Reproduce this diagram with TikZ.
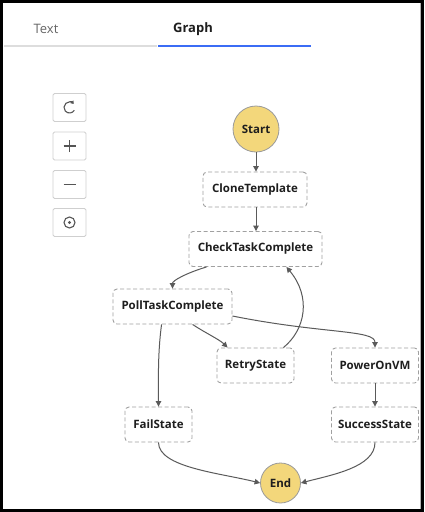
\documentclass[tikz,border=0pt]{standalone}
\usepackage{fontspec}
\setmainfont{Open Sans}
\usetikzlibrary{arrows.meta,calc}
\definecolor{edgec}{HTML}{5A5A5A}
\definecolor{boxc}{HTML}{A0A0A0}
\definecolor{startc}{HTML}{F3D77B}
\definecolor{startb}{HTML}{9A9A9A}
\definecolor{txt}{HTML}{1E1E1E}
\definecolor{tabgray}{HTML}{DDDDDD}
\definecolor{tabblue}{HTML}{3B6CF5}
\definecolor{btnb}{HTML}{CFCFCF}
\definecolor{iconc}{HTML}{555555}
\begin{document}
\begin{tikzpicture}[x=1pt,y=1pt,
  statebox/.style={draw=boxc, line width=0.9pt, dash pattern=on 4pt off 2.5pt, rounded corners=4pt,
    minimum height=35pt, inner sep=0pt, text=txt, font=\fontsize{11.5}{13}\selectfont\bfseries},
  terminal/.style={circle, draw=startb, line width=0.8pt, fill=startc, inner sep=0pt, text=txt,
    font=\fontsize{11.5}{13}\selectfont\bfseries},
  edge/.style={draw=edgec, line width=1pt, -{Triangle[length=5.5pt,width=5.5pt]}},
  btn/.style={draw=btnb, line width=0.8pt, rounded corners=1.5pt, minimum width=33pt, minimum height=28pt, inner sep=0pt},
  icon/.style={draw=iconc, line width=1.1pt}
]
\useasboundingbox (0,0) rectangle (424,-512);
% frame
\fill[black] (0,0) rectangle (424,-512);
\fill[white] (2.5,-3) rectangle (420.5,-508.5);
\fill[gray!60] (419.5,-3) rectangle (420.5,-508.5);

% tabs
\node[text=black!60, font=\fontsize{13}{15}\selectfont] (tabtext) at (46,-29) {Text};
\node[text=txt, font=\fontsize{13}{15}\selectfont\bfseries] (tabgraph) at (193,-29) {Graph};
\draw[tabgray, line width=1.2pt] (4,-46) -- (157,-46);
\draw[tabblue, line width=1.6pt] (158,-46) -- (311,-46);

% buttons
\node[btn] (b1) at (69.5,-107.5) {};
\node[btn] (b2) at (69.5,-146) {};
\node[btn] (b3) at (69.5,-184.5) {};
\node[btn] (b4) at (69.5,-222.5) {};
\draw[icon, {Triangle[length=3pt,width=4pt]}-] ($(b1.center)+(40:5.5)$) arc[start angle=40, end angle=330, radius=5.5];
\draw[icon] ($(b2.center)+(-6,0)$) -- ($(b2.center)+(6,0)$) ($(b2.center)+(0,-6)$) -- ($(b2.center)+(0,6)$);
\draw[icon] ($(b3.center)+(-6,0)$) -- ($(b3.center)+(6,0)$);
\draw[icon] (b4.center) circle[radius=5.5];
\fill[iconc] (b4.center) circle[radius=1.6];

% states
\node[terminal, minimum size=46pt] (start) at (256,-129) {Start};
\node[statebox, minimum width=104pt] (clone) at (255,-189.5) {CloneTemplate};
\node[statebox, minimum width=133pt] (check) at (255.5,-249) {CheckTaskComplete};
\node[statebox, minimum width=119pt] (poll) at (172.5,-306.5) {PollTaskComplete};
\node[statebox, minimum width=77pt] (retry) at (255.5,-365.5) {RetryState};
\node[statebox, minimum width=87pt] (power) at (375,-365.5) {PowerOnVM};
\node[statebox, minimum width=67pt] (fail) at (158.5,-424.5) {FailState};
\node[statebox, minimum width=87pt] (success) at (375,-424.5) {SuccessState};
\node[terminal, minimum size=40pt] (end) at (280.5,-483) {End};

% edges
\draw[edge] (start) -- (start.south |- clone.north);
\draw[edge] (clone.south -| start.south) -- (check.north -| start.south);
\draw[edge] ($(check.south west)+(18,0)$) .. controls +(-20,-6) and +(0,8) .. (poll.north);
\draw[edge] ($(poll.south west)+(49,0)$) .. controls +(-4,-30) and +(0,25) .. (fail.north);
\draw[edge] ($(poll.south west)+(80,0)$) .. controls +(12,-8) and +(-8,8) .. ($(retry.north west)+(11,0)$);
\draw[edge] ($(retry.north east)+(-11,0)$) .. controls +(22,18) and +(25,-30) .. ($(check.south east)+(-36,0)$);
\draw[edge] ($(poll.east)+(0,-9.5)$) .. controls +(90,-18) and +(0,18) .. (power.north);
\draw[edge] (power) -- (success);
\draw[edge] (fail.south) .. controls +(0,-25) and +(-40,10) .. (end.west);
\draw[edge] (success.south) .. controls +(0,-25) and +(30,8) .. (end.east);
\end{tikzpicture}
\end{document}
